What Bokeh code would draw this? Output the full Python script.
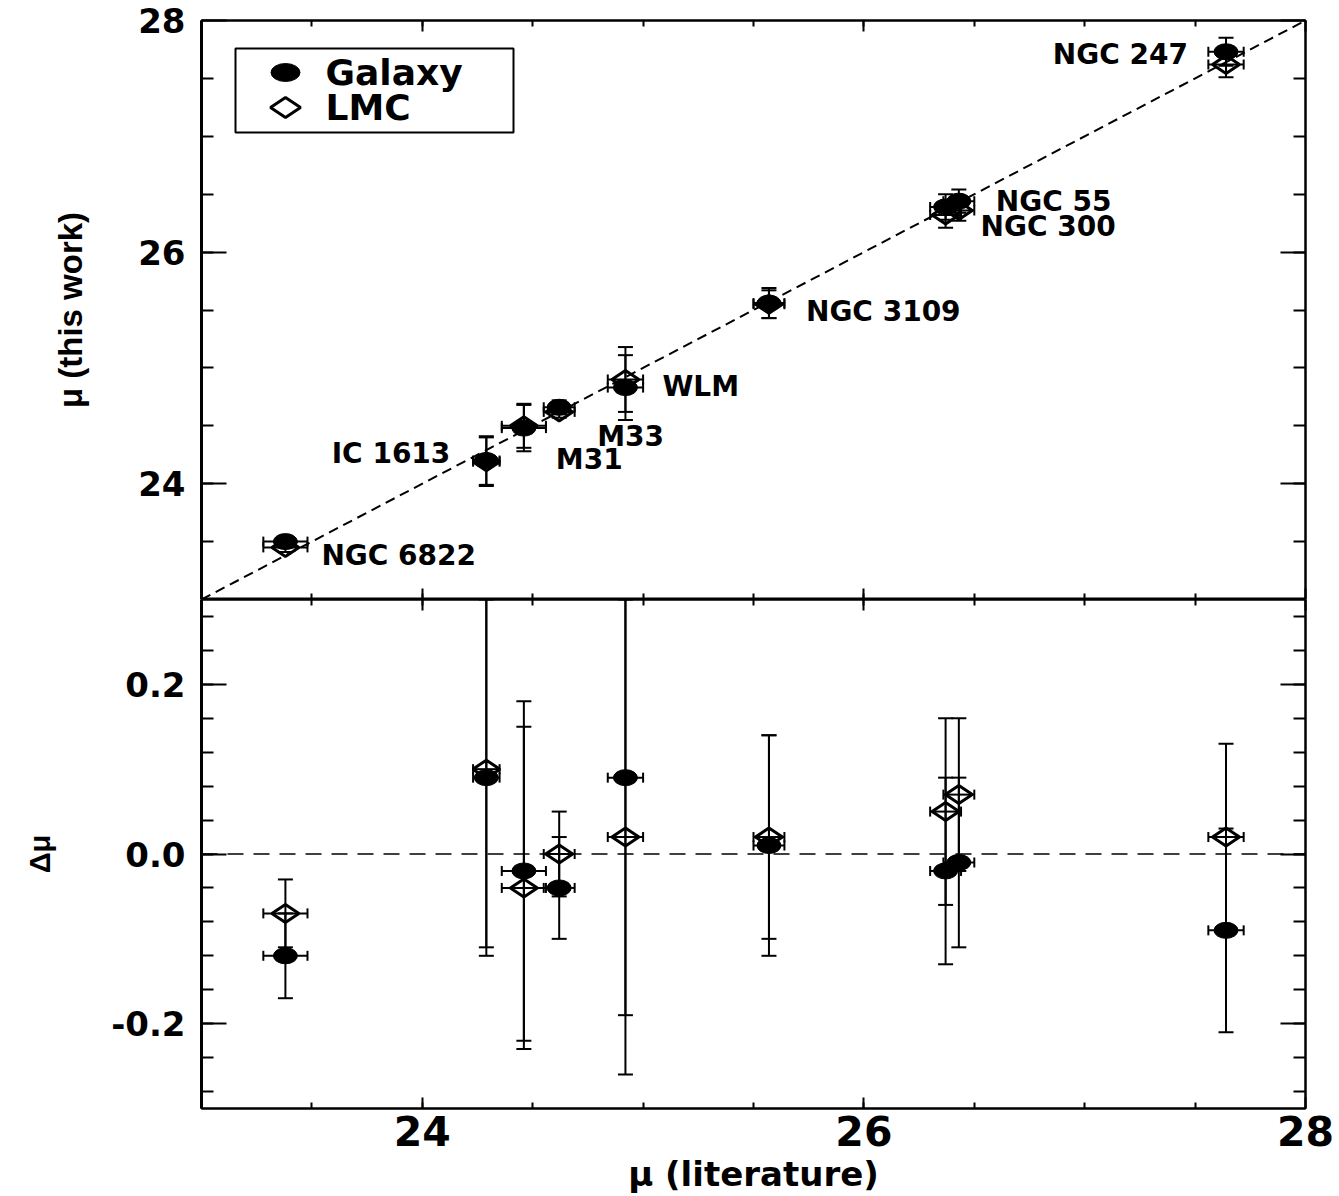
import numpy as np
from bokeh.plotting import figure
from bokeh.layouts import column
from bokeh.models import (ColumnDataSource, Range1d, FixedTicker, PrintfTickFormatter,
                          LinearAxis, Whisker, TeeHead, Slope, Span, Label, BoxAnnotation)
from bokeh.core.properties import value
from bokeh.embed import file_html
from bokeh.resources import INLINE

# ---- data -------------------------------------------------------------
names = ["NGC 6822", "IC 1613", "M31", "M33", "WLM", "NGC 3109", "NGC 300", "NGC 55", "NGC 247"]
mu_lit = [23.38, 24.29, 24.46, 24.62, 24.92, 25.57, 26.37, 26.43, 27.64]
err_lit = [0.10, 0.06, 0.10, 0.07, 0.08, 0.07, 0.07, 0.07, 0.08]
# delta mu = mu(literature) - mu(this work)
dmu_gal = [-0.12, 0.09, -0.02, -0.04, 0.09, 0.01, -0.02, -0.01, -0.09]
dmu_lmc = [-0.07, 0.10, -0.04, 0.00, 0.02, 0.02, 0.05, 0.07, 0.02]
err_gal = [0.05, 0.21, 0.20, 0.06, 0.28, 0.13, 0.11, 0.10, 0.12]
err_lmc = [0.04, 0.21, 0.19, 0.05, 0.28, 0.12, 0.11, 0.09, 0.11]

x_major = [24, 26, 28]
x_minor = [23.5, 24, 24.5, 25, 25.5, 26, 26.5, 27, 27.5]
top_major = [24, 26, 28]
top_minor = [23.5, 24, 24.5, 25, 25.5, 26, 26.5, 27, 27.5]
bot_major = [-0.2, 0.0, 0.2]
bot_minor = [round(-0.28 + 0.04 * i, 2) for i in range(15)]

# label placement (screen px offsets from the one-to-one line)
label_dx = [36, -36, 32, 38, 37, 37, 35, 37, -38]
label_dy = [0, 3, 29, 25, 9, 10, 17, -1, -8]
label_right = [False, True, False, False, False, False, False, False, True]

# ---- layout constants ---------------------------------------------------
W = 1339
LEFT, RIGHT = 201, 34
TOP_BORDER = 20
TOP_H = 599
BOT_H = 1196 - TOP_H
FRAME_W = W - LEFT - RIGHT
FRAME_H_TOP = TOP_H - TOP_BORDER
WIDE = "DejaVu Sans"
ARIAL = "Liberation Sans"
YTICK_SIZE = "34px"

lit = np.array(mu_lit)
xerr = np.array(err_lit)


def make_source(y, yerr):
    y = np.asarray(y, dtype=float)
    yerr = np.asarray(yerr, dtype=float)
    return ColumnDataSource(dict(x=lit, y=y, ylo=y - yerr, yhi=y + yerr,
                                 xlo=lit - xerr, xhi=lit + xerr))


def style_axis(ax, ticker, tick_in, minor_in, labels=True):
    ax.ticker = ticker
    ax.major_tick_in = tick_in
    ax.major_tick_out = 0
    ax.minor_tick_in = minor_in
    ax.minor_tick_out = 0
    ax.major_tick_line_width = 2
    ax.minor_tick_line_width = 2
    ax.major_tick_line_color = "black"
    ax.minor_tick_line_color = "black"
    ax.axis_line_color = "black"
    ax.axis_line_width = 2
    ax.major_label_text_color = "black"
    ax.axis_label_text_color = "black"
    if not labels:
        ax.major_label_text_font_size = "0px"
        ax.major_label_text_color = None
        ax.major_label_standoff = 0
        ax.axis_label = None


def make_panel(height, y_range, yticker, top_border):
    p = figure(width=W, height=height, x_range=Range1d(23, 28), y_range=y_range,
               output_backend="svg", toolbar_location=None,
               min_border_left=LEFT, min_border_right=RIGHT,
               min_border_top=top_border, min_border_bottom=0)
    p.background_fill_color = "white"
    p.border_fill_color = "white"
    p.outline_line_color = "black"
    p.outline_line_width = 2
    p.xgrid.visible = False
    p.ygrid.visible = False
    xt = FixedTicker(ticks=x_major, minor_ticks=x_minor)
    p.add_layout(LinearAxis(), "above")
    p.add_layout(LinearAxis(), "right")
    style_axis(p.below[0], xt, 11, 6)
    style_axis(p.above[0], xt, 11, 6, labels=False)
    style_axis(p.left[0], yticker, 25, 12)
    style_axis(p.right[0], yticker, 25, 12, labels=False)
    p.left[0].axis_line_width = 3
    p.left[0].major_label_text_font = WIDE
    p.left[0].major_label_text_font_style = "bold"
    p.left[0].major_label_text_font_size = YTICK_SIZE
    p.left[0].major_label_standoff = 16
    p.left[0].axis_label_text_font = ARIAL
    p.left[0].axis_label_text_font_style = "bold"
    return p


def add_points(p, src_gal, src_lmc):
    for src in (src_gal, src_lmc):
        p.add_layout(Whisker(source=src, base="x", lower="ylo", upper="yhi",
                             dimension="height", level="underlay",
                             line_color="black", line_width=2,
                             upper_head=TeeHead(size=15, line_width=2, line_color="black"),
                             lower_head=TeeHead(size=15, line_width=2, line_color="black")))
        p.add_layout(Whisker(source=src, base="y", lower="xlo", upper="xhi",
                             dimension="width", level="underlay",
                             line_color="black", line_width=2,
                             upper_head=TeeHead(size=10, line_width=2, line_color="black"),
                             lower_head=TeeHead(size=10, line_width=2, line_color="black")))
    p.ellipse(x="x", y="y", width=24, height=16, width_units="screen", height_units="screen",
              source=src_gal, fill_color="black", line_color="black", line_width=1)
    p.scatter(x="x", y="y", marker="diamond", size=27, angle=np.pi / 2, source=src_lmc,
              fill_color=None, line_color="black", line_width=3)


# ---- top panel: distance moduli ----------------------------------------
top = make_panel(TOP_H, Range1d(23, 28), FixedTicker(ticks=top_major, minor_ticks=top_minor),
                 TOP_BORDER)
style_axis(top.below[0], top.below[0].ticker, 11, 6, labels=False)
top.left[0].axis_label = "μ (this work)"
top.left[0].axis_label_text_font_size = "33px"
top.left[0].axis_label_standoff = 46
top.left[0].formatter = PrintfTickFormatter(format="%d")

top.add_layout(Slope(gradient=1, y_intercept=0, line_color="black", line_width=2,
                     line_dash="10 6"))

gal_top = make_source(lit - np.array(dmu_gal), err_gal)
lmc_top = make_source(lit - np.array(dmu_lmc), err_lmc)
add_points(top, gal_top, lmc_top)

for right in (False, True):
    idx = [i for i, r in enumerate(label_right) if r == right]
    lab = ColumnDataSource(dict(x=[mu_lit[i] for i in idx], y=[mu_lit[i] for i in idx],
                                name=[names[i] for i in idx],
                                dx=[label_dx[i] for i in idx], dy=[label_dy[i] for i in idx]))
    top.text(x="x", y="y", text="name", x_offset="dx", y_offset="dy", source=lab,
             text_font=value(WIDE), text_font_style="bold", text_font_size="28px",
             text_align="right" if right else "left", text_baseline="middle",
             text_color="black")

# legend box with keys
top.extra_x_ranges = {"px": Range1d(0, FRAME_W)}
top.extra_y_ranges = {"px": Range1d(0, FRAME_H_TOP)}
top.add_layout(BoxAnnotation(left=34, right=312, bottom=467, top=551,
                             left_units="screen", right_units="screen",
                             bottom_units="screen", top_units="screen",
                             fill_color=None, fill_alpha=0, line_color="black",
                             line_alpha=1, line_width=2, line_dash="solid"))
key_x = 84
key_y = [527, 492]
top.ellipse(x=[key_x], y=[key_y[0]], width=29, height=18, width_units="screen",
            height_units="screen", x_range_name="px", y_range_name="px",
            fill_color="black", line_color="black")
top.scatter(x=[key_x], y=[key_y[1]], marker="diamond", size=30, angle=np.pi / 2,
            x_range_name="px", y_range_name="px",
            fill_color=None, line_color="black", line_width=3)
for txt, ky in zip(["Galaxy", "LMC"], key_y):
    top.add_layout(Label(x=124, y=ky, x_units="screen", y_units="screen", text=txt,
                         text_font=WIDE, text_font_style="bold", text_font_size="36px",
                         text_baseline="middle", text_color="black"))

# ---- bottom panel: residuals -------------------------------------------
bot = make_panel(BOT_H, Range1d(-0.3, 0.3), FixedTicker(ticks=bot_major, minor_ticks=bot_minor), 0)
bot.left[0].formatter = PrintfTickFormatter(format="%.1f")
bot.left[0].axis_label = "Δμ"
bot.left[0].axis_label_text_font_size = "29px"
bot.left[0].axis_label_standoff = 52
xa = bot.below[0]
xa.major_label_text_font = WIDE
xa.major_label_text_font_style = "bold"
xa.major_label_text_font_size = "41px"
xa.major_label_standoff = 7
xa.axis_label = "μ (literature)"
xa.axis_label_text_font = WIDE
xa.axis_label_text_font_style = "bold"
xa.axis_label_text_font_size = "34px"
xa.axis_label_standoff = 5

bot.add_layout(Span(location=0, dimension="width", line_color="black", line_width=1.5,
                    line_dash="16 10"))
add_points(bot, make_source(dmu_gal, err_gal), make_source(dmu_lmc, err_lmc))

layout = column(top, bot)
open("out.html", "w").write(file_html(layout, INLINE))
